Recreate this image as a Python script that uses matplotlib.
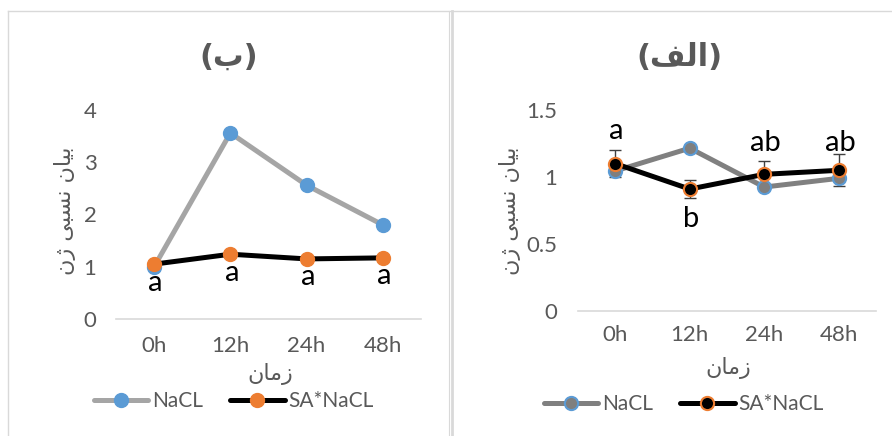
import matplotlib
matplotlib.use("Agg")
import matplotlib.pyplot as plt
from matplotlib.lines import Line2D

W, H = 892, 436
DPI = 100
GRAY_TXT = "#595959"
BORDER = "#d9d9d9"
BLUE = "#5B9BD5"
ORANGE = "#ED7D31"
FONT = "Lato"
AR_FONT = ["DejaVu Sans"]

TIMES = ["0h", "12h", "24h", "48h"]

# panel (ب)
NACL_B = [1.0, 3.56, 2.56, 1.80]
SA_NACL_B = [1.05, 1.24, 1.15, 1.17]
LETTERS_B = ["a", "a", "a", "a"]
YTICKS_B = [0, 1, 2, 3, 4]

# panel (الف)
NACL_A = [1.045, 1.215, 0.925, 0.99]
SA_NACL_A = [1.10, 0.91, 1.02, 1.05]
SA_ERR_A = [0.10, 0.07, 0.10, 0.12]
LETTERS_A = ["a", "b", "ab", "ab"]
YTICKS_A = [0, 0.5, 1, 1.5]

# arabic/persian text, pre-shaped and in visual order
TITLE_B = "(\uFE8F)"
TITLE_A = "(\uFED2\uFEDF\uFE8D)"
XLABEL = "\uFEE5\uFE8E\uFEE3\uFEAF"
YLABEL = "\uFEE5\u0698 \uFBFD\uFE92\uFEB4\uFEE7 \uFEE5\uFE8E\uFEF4\uFE91"

# letter offsets from the SA*NaCL point, in points
OFFS_B = [-19, -19, -19, -19]
OFFS_A = [18, -27, 17, 14]


def box(x0, y0, x1, y1):
    # pixel box (top-left origin) -> figure fraction rect
    return [x0 / W, 1 - y1 / H, (x1 - x0) / W, (y1 - y0) / H]


def style_axis(ax, ticks, ylim, xpad, ypad):
    ax.set_xlim(-0.5, 3.5)
    ax.set_ylim(*ylim)
    ax.set_yticks(ticks)
    ax.set_yticklabels([f"{t:g}" for t in ticks])
    ax.set_xticks(range(len(TIMES)))
    ax.set_xticklabels(TIMES)
    for s in ["top", "right", "left"]:
        ax.spines[s].set_visible(False)
    ax.spines["bottom"].set_color(BORDER)
    ax.spines["bottom"].set_linewidth(1.2)
    ax.tick_params(length=0, labelsize=16, labelcolor=GRAY_TXT)
    ax.tick_params(axis="x", pad=xpad)
    ax.tick_params(axis="y", pad=ypad)
    for lab in ax.get_xticklabels() + ax.get_yticklabels():
        lab.set_family(FONT)
    ax.patch.set_alpha(0)


plt.rcParams["font.family"] = [FONT, "DejaVu Sans"]
fig = plt.figure(figsize=(W / DPI, H / DPI), dpi=DPI)

# outer chart borders
fig.add_artist(Line2D([8 / W, 1], [1 - 11.5 / H] * 2, color=BORDER, lw=1))
fig.add_artist(Line2D([8 / W] * 2, [0, 1 - 11.5 / H], color=BORDER, lw=1))
fig.add_artist(Line2D([449 / W] * 2, [0, 1 - 11.5 / H], color=BORDER, lw=0.8))
fig.add_artist(Line2D([452 / W] * 2, [0, 1 - 11.5 / H], color=BORDER, lw=2))

x = list(range(len(TIMES)))

# ---- left panel (ب)
axb = fig.add_axes(box(116, 110, 421, 319))
style_axis(axb, YTICKS_B, (0, 4), 12, 14)
axb.plot(x, NACL_B, color="#A5A5A5", lw=3.6, marker="o", ms=10,
         mfc=BLUE, mec=BLUE, solid_capstyle="round", zorder=3, label="NaCL")
axb.plot(x, SA_NACL_B, color="black", lw=3.6, marker="o", ms=10,
         mfc=ORANGE, mec=ORANGE, solid_capstyle="round", zorder=4, label="SA*NaCL")
for i, (v, t) in enumerate(zip(SA_NACL_B, LETTERS_B)):
    axb.annotate(t, (i, v), xytext=(1, OFFS_B[i]), textcoords="offset points",
                 ha="center", va="baseline", fontsize=21, color="black")
axb.text(0.505, -0.262, XLABEL, transform=axb.transAxes, ha="center", va="center",
         fontsize=16, color=GRAY_TXT, family=AR_FONT)
axb.text(-0.167, 0.52, YLABEL, transform=axb.transAxes, ha="center", va="center",
         rotation=90, fontsize=16, color=GRAY_TXT, family=AR_FONT)
fig.text(229 / W, 1 - 57 / H, TITLE_B, ha="center", va="center", fontsize=22,
         fontweight="bold", color=GRAY_TXT, family=AR_FONT)
hb, lb = axb.get_legend_handles_labels()
fig.legend(hb, lb, loc="center", bbox_to_anchor=(234 / W, 1 - 401 / H), ncol=2,
           frameon=False, fontsize=15, handlelength=2.6, handletextpad=0.2,
           columnspacing=1.3, labelcolor=GRAY_TXT)

# ---- right panel (الف)
axa = fig.add_axes(box(578, 110, 876, 311))
style_axis(axa, YTICKS_A, (0, 1.5), 10, 15)
axa.plot(x, NACL_A, color="#808080", lw=3.6, marker="o", ms=9.5,
         mfc="#7F7F7F", mec=BLUE, mew=1.5, solid_capstyle="round", zorder=3,
         label="NaCL")
axa.errorbar(x, SA_NACL_A, yerr=SA_ERR_A, fmt="none", ecolor="#404040",
             elinewidth=1, capsize=4, capthick=1, zorder=2)
axa.plot(x, SA_NACL_A, color="black", lw=3.6, marker="o", ms=9.5,
         mfc="black", mec=ORANGE, mew=1.5, solid_capstyle="round", zorder=4,
         label="SA*NaCL")
for i, (v, t) in enumerate(zip(SA_NACL_A, LETTERS_A)):
    axa.annotate(t, (i, v), xytext=(1, OFFS_A[i]), textcoords="offset points",
                 ha="center", va="baseline", fontsize=21, color="black")
axa.text(0.503, -0.284, XLABEL, transform=axa.transAxes, ha="center", va="center",
         fontsize=16, color=GRAY_TXT, family=AR_FONT)
axa.text(-0.228, 0.50, YLABEL, transform=axa.transAxes, ha="center", va="center",
         rotation=90, fontsize=16, color=GRAY_TXT, family=AR_FONT)
fig.text(679 / W, 1 - 57 / H, TITLE_A, ha="center", va="center", fontsize=22,
         fontweight="bold", color=GRAY_TXT, family=AR_FONT)
ha_, la_ = axa.get_legend_handles_labels()
fig.legend(ha_, la_, loc="center", bbox_to_anchor=(684 / W, 1 - 404 / H), ncol=2,
           frameon=False, fontsize=15, handlelength=2.6, handletextpad=0.2,
           columnspacing=1.3, labelcolor=GRAY_TXT)

fig.savefig("out.png", dpi=DPI)
